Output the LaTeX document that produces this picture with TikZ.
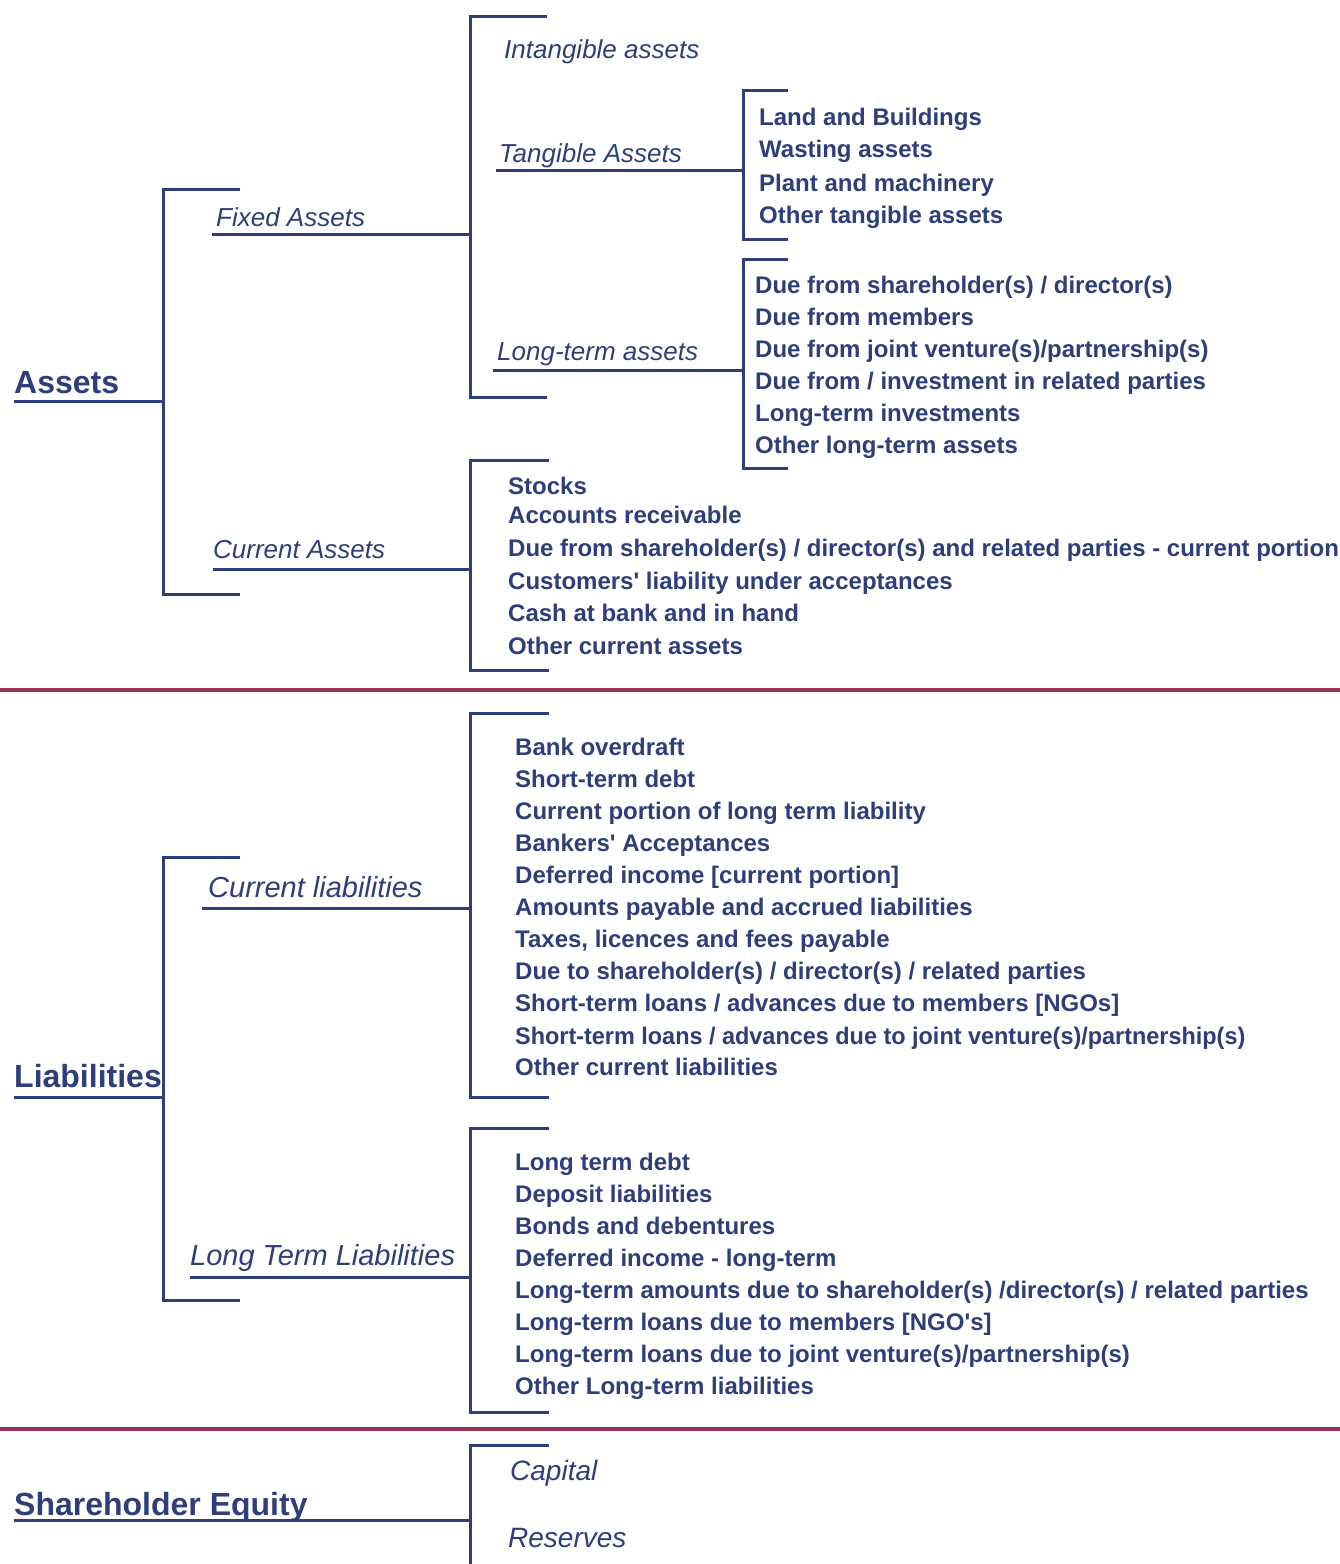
\documentclass[tikz,border=0pt]{standalone}
\usepackage{fontspec}
\setmainfont{Liberation Sans}[Ligatures=TeXOff]
\definecolor{navy}{RGB}{46,62,122}
\definecolor{wine}{RGB}{158,48,88}
\begin{document}
\begin{tikzpicture}[x=1pt,y=-1pt,
  ln/.style={line width=3pt, draw=navy},
  sep/.style={line width=3.5pt, draw=wine},
  item/.style={anchor=base west, inner sep=0pt, text=navy, font=\fontsize{24}{28}\selectfont\bfseries},
  lab/.style={anchor=base west, inner sep=0pt, text=navy, font=\fontsize{26}{30}\selectfont\itshape},
  labw/.style={anchor=base west, inner sep=0pt, text=navy, font=\fontsize{29}{33}\selectfont\itshape},
  head/.style={anchor=base west, inner sep=0pt, text=navy, font=\fontsize{32}{36}\selectfont\bfseries}]
\useasboundingbox[fill=white] (0,0) rectangle (1340,1564);

% ---------------- Assets ----------------
\node[head] (assets) at (14,393) {Assets};
\coordinate (assetsL) at (14,401);
\coordinate (b1top) at (163,189); \coordinate (b1topE) at (240,189);
\coordinate (b1bot) at (163,594); \coordinate (b1botE) at (240,594);
\coordinate (b1mid) at (163,401);
\draw[ln] (b1topE) -- (b1top) -- (b1bot) -- (b1botE);
\draw[ln] (assetsL) -- (b1mid);

\node[lab] (fixed) at (216,226) {Fixed Assets};
\coordinate (fixedL) at (212,234); \coordinate (fixedR) at (470,234);
\draw[ln] (fixedL) -- (fixedR);

\node[lab] (current) at (213,558) {Current Assets};
\coordinate (currL) at (213,569); \coordinate (currR) at (470,569);
\draw[ln] (currL) -- (currR);

% bracket of Fixed Assets
\coordinate (b2top) at (470,16); \coordinate (b2topE) at (547,16);
\coordinate (b2bot) at (470,397); \coordinate (b2botE) at (547,397);
\draw[ln] (b2topE) -- (b2top) -- (b2bot) -- (b2botE);

\node[lab] (intang) at (504,58) {Intangible assets};
\node[lab] (tang) at (499,162) {Tangible Assets};
\coordinate (tangL) at (496,170); \coordinate (tangR) at (743,170);
\draw[ln] (tangL) -- (tangR);
\node[lab] (lta) at (497,360) {Long-term assets};
\coordinate (ltaL) at (493,370); \coordinate (ltaR) at (743,370);
\draw[ln] (ltaL) -- (ltaR);

% bracket of Tangible
\coordinate (b3top) at (743,90); \coordinate (b3topE) at (788,90);
\coordinate (b3bot) at (743,239); \coordinate (b3botE) at (788,239);
\draw[ln] (b3topE) -- (b3top) -- (b3bot) -- (b3botE);
\node[item] (t1) at (759,125) {Land and Buildings};
\node[item] (t2) at (759,157) {Wasting assets};
\node[item] (t3) at (759,191) {Plant and machinery};
\node[item] (t4) at (759,223) {Other tangible assets};

% bracket of Long-term
\coordinate (b4top) at (743,259); \coordinate (b4topE) at (788,259);
\coordinate (b4bot) at (743,468); \coordinate (b4botE) at (788,468);
\draw[ln] (b4topE) -- (b4top) -- (b4bot) -- (b4botE);
\node[item] (l1) at (755,293) {Due from shareholder(s) / director(s)};
\node[item] (l2) at (755,325) {Due from members};
\node[item] (l3) at (755,357) {Due from joint venture(s)/partnership(s)};
\node[item] (l4) at (755,389) {Due from / investment in related parties};
\node[item] (l5) at (755,421) {Long-term investments};
\node[item] (l6) at (755,453) {Other long-term assets};

% bracket of Current Assets
\coordinate (b5top) at (470,460); \coordinate (b5topE) at (549,460);
\coordinate (b5bot) at (470,670); \coordinate (b5botE) at (549,670);
\draw[ln] (b5topE) -- (b5top) -- (b5bot) -- (b5botE);
\node[item] (c1) at (508,494) {Stocks};
\node[item] (c2) at (508,523) {Accounts receivable};
\node[item] (c3) at (508,556) {Due from shareholder(s) / director(s) and related parties - current portion};
\node[item] (c4) at (508,589) {Customers' liability under acceptances};
\node[item] (c5) at (508,621) {Cash at bank and in hand};
\node[item] (c6) at (508,654) {Other current assets};

% separator
\coordinate (s1L) at (0,690); \coordinate (s1R) at (1340,690);
\draw[sep] (s1L) -- (s1R);

% ---------------- Liabilities ----------------
\node[head] (liab) at (14,1087) {Liabilities};
\coordinate (liabL) at (14,1097);
\coordinate (b6top) at (163,857); \coordinate (b6topE) at (240,857);
\coordinate (b6bot) at (163,1300); \coordinate (b6botE) at (240,1300);
\coordinate (b6mid) at (163,1097);
\draw[ln] (b6topE) -- (b6top) -- (b6bot) -- (b6botE);
\draw[ln] (liabL) -- (b6mid);

\node[labw] (cl) at (208,897) {Current liabilities};
\coordinate (clL) at (202,908); \coordinate (clR) at (470,908);
\draw[ln] (clL) -- (clR);
\node[labw] (ltl) at (190,1265) {Long Term Liabilities};
\coordinate (ltlL) at (190,1277); \coordinate (ltlR) at (470,1277);
\draw[ln] (ltlL) -- (ltlR);

% bracket of Current liabilities
\coordinate (b7top) at (470,713); \coordinate (b7topE) at (549,713);
\coordinate (b7bot) at (470,1097); \coordinate (b7botE) at (549,1097);
\draw[ln] (b7topE) -- (b7top) -- (b7bot) -- (b7botE);
\node[item] (cl1) at (515,755) {Bank overdraft};
\node[item] (cl2) at (515,787) {Short-term debt};
\node[item] (cl3) at (515,819) {Current portion of long term liability};
\node[item] (cl4) at (515,851) {Bankers' Acceptances};
\node[item] (cl5) at (515,883) {Deferred income [current portion]};
\node[item] (cl6) at (515,915) {Amounts payable and accrued liabilities};
\node[item] (cl7) at (515,947) {Taxes, licences and fees payable};
\node[item] (cl8) at (515,979) {Due to shareholder(s) / director(s) / related parties};
\node[item] (cl9) at (515,1011) {Short-term loans / advances due to members [NGOs]};
\node[item] (cl10) at (515,1044) {\scalebox{0.976}[1]{Short-term loans / advances due to joint venture(s)/partnership(s)}};
\node[item] (cl11) at (515,1075) {Other current liabilities};

% bracket of Long Term Liabilities
\coordinate (b8top) at (470,1128); \coordinate (b8topE) at (549,1128);
\coordinate (b8bot) at (470,1412); \coordinate (b8botE) at (549,1412);
\draw[ln] (b8topE) -- (b8top) -- (b8bot) -- (b8botE);
\node[item] (lt1) at (515,1170) {Long term debt};
\node[item] (lt2) at (515,1202) {Deposit liabilities};
\node[item] (lt3) at (515,1234) {Bonds and debentures};
\node[item] (lt4) at (515,1266) {Deferred income - long-term};
\node[item] (lt5) at (515,1298) {Long-term amounts due to shareholder(s) /director(s) / related parties};
\node[item] (lt6) at (515,1330) {Long-term loans due to members [NGO's]};
\node[item] (lt7) at (515,1362) {Long-term loans due to joint venture(s)/partnership(s)};
\node[item] (lt8) at (515,1394) {Other Long-term liabilities};

% separator
\coordinate (s2L) at (0,1429); \coordinate (s2R) at (1340,1429);
\draw[sep] (s2L) -- (s2R);

% ---------------- Shareholder Equity ----------------
\node[head] (equity) at (14,1515) {Shareholder Equity};
\coordinate (eqL) at (14,1520); \coordinate (eqR) at (470,1520);
\draw[ln] (eqL) -- (eqR);
\coordinate (b9top) at (470,1445); \coordinate (b9topE) at (549,1445);
\coordinate (b9bot) at (470,1566);
\draw[ln] (b9topE) -- (b9top) -- (b9bot);
\node[labw, font=\fontsize{28}{32}\selectfont\itshape] (capital) at (510,1480) {Capital};
\node[labw, font=\fontsize{28}{32}\selectfont\itshape] (reserves) at (508,1547) {Reserves};
\end{tikzpicture}
\end{document}
